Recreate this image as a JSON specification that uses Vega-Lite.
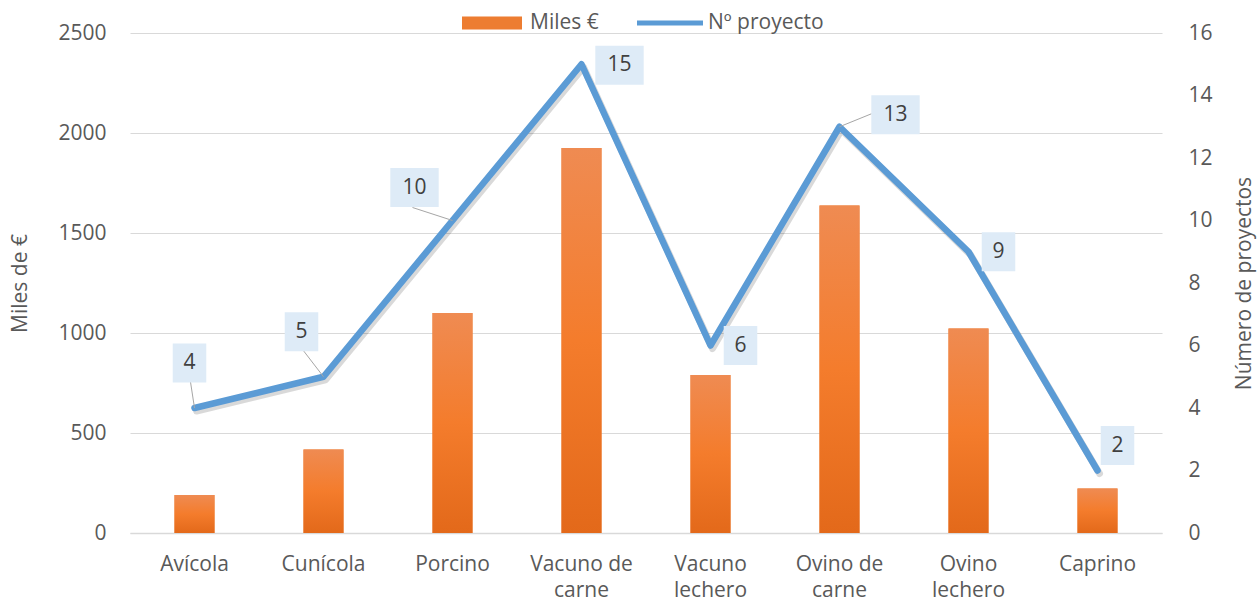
{
  "$schema": "https://vega.github.io/schema/vega-lite/v6.json",
  "width": 1032,
  "height": 500,
  "autosize": "none",
  "padding": {"left": 130, "top": 33, "right": 96, "bottom": 70},
  "background": "white",
  "config": {
    "view": {"stroke": null},
    "font": "Open Sans",
    "axis": {"labelFont": "Open Sans", "titleFont": "Open Sans"},
    "legend": {"labelFont": "Open Sans"}
  },
  "data": {
    "values": [
      {"categoria": "Avícola", "miles": 190, "proyectos": 4},
      {"categoria": "Cunícola", "miles": 418, "proyectos": 5},
      {"categoria": "Porcino", "miles": 1100, "proyectos": 10},
      {"categoria": "Vacuno de carne", "miles": 1925, "proyectos": 15},
      {"categoria": "Vacuno lechero", "miles": 790, "proyectos": 6},
      {"categoria": "Ovino de carne", "miles": 1637, "proyectos": 13},
      {"categoria": "Ovino lechero", "miles": 1023, "proyectos": 9},
      {"categoria": "Caprino", "miles": 223, "proyectos": 2}
    ]
  },
  "encoding": {
    "x": {
      "field": "categoria",
      "type": "nominal",
      "sort": null,
      "scale": {"paddingInner": 0.69, "paddingOuter": 0.345},
      "axis": {
        "title": null,
        "labelAngle": 0,
        "labelFontSize": 21,
        "labelColor": "#595959",
        "labelPadding": 20,
        "labelLineHeight": 26,
        "ticks": false,
        "grid": false,
        "domainColor": "#D9D9D9",
        "domainWidth": 1.5,
        "labelExpr": "indexof(datum.label, ' ') > 0 ? [slice(datum.label, 0, lastindexof(datum.label, ' ')), slice(datum.label, lastindexof(datum.label, ' ') + 1)] : datum.label"
      }
    }
  },
  "layer": [
    {
      "encoding": {
        "y": {
          "field": "miles",
          "type": "quantitative",
          "scale": {"domain": [0, 2500]},
          "axis": {
            "title": "Miles de €",
            "values": [0, 500, 1000, 1500, 2000, 2500],
            "format": "d",
            "labelFontSize": 21,
            "labelColor": "#595959",
            "labelPadding": 24,
            "titleFontSize": 21,
            "titleFontWeight": "normal",
            "titleColor": "#595959",
            "titlePadding": 27,
            "ticks": false,
            "domain": false,
            "grid": true,
            "gridColor": "#D9D9D9",
            "gridWidth": 1
          }
        }
      },
      "layer": [
        {
          "mark": {"type": "bar"},
          "encoding": {
            "color": {
              "datum": "Miles €",
              "scale": {"domain": ["Miles €", "Nº proyecto"], "range": ["#ED7D31", "#5B9BD5"]},
              "legend": {
                "title": null,
                "orient": "none",
                "legendX": 332,
                "legendY": -40,
                "direction": "horizontal",
                "padding": 0,
                "symbolSize": 3600,
                "symbolStrokeWidth": 0,
                "labelFontSize": 21,
                "labelColor": "#595959",
                "labelOffset": 8,
                "columnPadding": 38,
                "encode": {
                  "symbols": {
                    "update": {
                      "shape": {"signal": "datum.value === 'Miles €' ? 'M-1,-0.22H1V0.22H-1Z' : 'M-1.1,-0.085H1.1V0.085H-1.1Z'"},
                      "fill": {"signal": "datum.value === 'Miles €' ? '#ED7D31' : '#5B9BD5'"},
                      "stroke": {"value": "transparent"},
                      "opacity": {"value": 1}
                    }
                  }
                }
              }
            }
          }
        },
        {
          "mark": {
            "type": "bar",
            "color": {
              "gradient": "linear",
              "x1": 0, "y1": 0, "x2": 0, "y2": 1,
              "stops": [
                {"offset": 0, "color": "#EF8B52"},
                {"offset": 0.5, "color": "#F47C2C"},
                {"offset": 1, "color": "#E3691A"}
              ]
            }
          }
        }
      ]
    },
    {
      "encoding": {
        "y": {
          "field": "proyectos",
          "type": "quantitative",
          "scale": {"domain": [0, 16]},
          "axis": {
            "orient": "right",
            "title": "Número de proyectos",
            "values": [0, 2, 4, 6, 8, 10, 12, 14, 16],
            "labelFontSize": 21,
            "labelColor": "#595959",
            "labelPadding": 26,
            "titleFontSize": 21,
            "titleFontWeight": "normal",
            "titleColor": "#595959",
            "titlePadding": 42,
            "titleAngle": 270,
            "ticks": false,
            "domain": false,
            "grid": false
          }
        }
      },
      "layer": [
        {
          "mark": {"type": "line", "color": "#000000", "opacity": 0.15, "strokeWidth": 7, "xOffset": 2, "yOffset": 3, "strokeJoin": "round", "strokeCap": "round"}
        },
        {
          "mark": {"type": "line", "strokeWidth": 6.5, "strokeJoin": "round", "strokeCap": "round"},
          "encoding": {"color": {"datum": "Nº proyecto"}}
        },
        {
          "transform": [{"filter": {"field": "categoria", "oneOf": ["Avícola"]}}],
          "layer": [
            {"mark": {"type": "rule", "color": "#A6A6A6", "strokeWidth": 1, "x2Offset": -4, "y2Offset": -26}, "encoding": {"x2": {"field": "categoria", "bandPosition": 0.5}, "y2": {"field": "proyectos"}}},
            {"mark": {"type": "point", "shape": "M-0.86,-1H0.86V1H-0.86Z", "size": 1521, "filled": true, "fill": "#DEEBF7", "opacity": 1, "strokeWidth": 0, "xOffset": -5, "yOffset": -45}},
            {"mark": {"type": "text", "dx": -5, "dy": -45, "fontSize": 21, "color": "#404040", "align": "center", "baseline": "middle"}, "encoding": {"text": {"field": "proyectos"}}}
          ]
        },
        {
          "transform": [{"filter": {"field": "categoria", "oneOf": ["Cunícola"]}}],
          "layer": [
            {"mark": {"type": "rule", "color": "#A6A6A6", "strokeWidth": 1, "x2Offset": -20, "y2Offset": -26}, "encoding": {"x2": {"field": "categoria", "bandPosition": 0.5}, "y2": {"field": "proyectos"}}},
            {"mark": {"type": "point", "shape": "M-0.86,-1H0.86V1H-0.86Z", "size": 1521, "filled": true, "fill": "#DEEBF7", "opacity": 1, "strokeWidth": 0, "xOffset": -22, "yOffset": -45}},
            {"mark": {"type": "text", "dx": -22, "dy": -45, "fontSize": 21, "color": "#404040", "align": "center", "baseline": "middle"}, "encoding": {"text": {"field": "proyectos"}}}
          ]
        },
        {
          "transform": [{"filter": {"field": "categoria", "oneOf": ["Porcino"]}}],
          "layer": [
            {"mark": {"type": "rule", "color": "#A6A6A6", "strokeWidth": 1, "x2Offset": -40, "y2Offset": -13}, "encoding": {"x2": {"field": "categoria", "bandPosition": 0.5}, "y2": {"field": "proyectos"}}},
            {"mark": {"type": "point", "shape": "M-1.24,-1H1.24V1H-1.24Z", "size": 1521, "filled": true, "fill": "#DEEBF7", "opacity": 1, "strokeWidth": 0, "xOffset": -38, "yOffset": -33}},
            {"mark": {"type": "text", "dx": -38, "dy": -33, "fontSize": 21, "color": "#404040", "align": "center", "baseline": "middle"}, "encoding": {"text": {"field": "proyectos"}}}
          ]
        },
        {
          "transform": [{"filter": {"field": "categoria", "oneOf": ["Vacuno de carne"]}}],
          "layer": [
            {"mark": {"type": "point", "shape": "M-1.24,-1H1.24V1H-1.24Z", "size": 1521, "filled": true, "fill": "#DEEBF7", "opacity": 1, "strokeWidth": 0, "xOffset": 38, "yOffset": 1}},
            {"mark": {"type": "text", "dx": 38, "dy": 1, "fontSize": 21, "color": "#404040", "align": "center", "baseline": "middle"}, "encoding": {"text": {"field": "proyectos"}}}
          ]
        },
        {
          "transform": [{"filter": {"field": "categoria", "oneOf": ["Vacuno lechero", "Ovino lechero"]}}],
          "layer": [
            {"mark": {"type": "point", "shape": "M-0.86,-1H0.86V1H-0.86Z", "size": 1521, "filled": true, "fill": "#DEEBF7", "opacity": 1, "strokeWidth": 0, "xOffset": 30, "yOffset": 0}},
            {"mark": {"type": "text", "dx": 30, "dy": 0, "fontSize": 21, "color": "#404040", "align": "center", "baseline": "middle"}, "encoding": {"text": {"field": "proyectos"}}}
          ]
        },
        {
          "transform": [{"filter": {"field": "categoria", "oneOf": ["Ovino de carne"]}}],
          "layer": [
            {"mark": {"type": "rule", "color": "#A6A6A6", "strokeWidth": 1, "x2Offset": 32, "y2Offset": -13}, "encoding": {"x2": {"field": "categoria", "bandPosition": 0.5}, "y2": {"field": "proyectos"}}},
            {"mark": {"type": "point", "shape": "M-1.24,-1H1.24V1H-1.24Z", "size": 1521, "filled": true, "fill": "#DEEBF7", "opacity": 1, "strokeWidth": 0, "xOffset": 56, "yOffset": -12}},
            {"mark": {"type": "text", "dx": 56, "dy": -12, "fontSize": 21, "color": "#404040", "align": "center", "baseline": "middle"}, "encoding": {"text": {"field": "proyectos"}}}
          ]
        },
        {
          "transform": [{"filter": {"field": "categoria", "oneOf": ["Caprino"]}}],
          "layer": [
            {"mark": {"type": "point", "shape": "M-0.86,-1H0.86V1H-0.86Z", "size": 1521, "filled": true, "fill": "#DEEBF7", "opacity": 1, "strokeWidth": 0, "xOffset": 20, "yOffset": -25}},
            {"mark": {"type": "text", "dx": 20, "dy": -25, "fontSize": 21, "color": "#404040", "align": "center", "baseline": "middle"}, "encoding": {"text": {"field": "proyectos"}}}
          ]
        }
      ]
    }
  ],
  "resolve": {"scale": {"y": "independent"}}
}
